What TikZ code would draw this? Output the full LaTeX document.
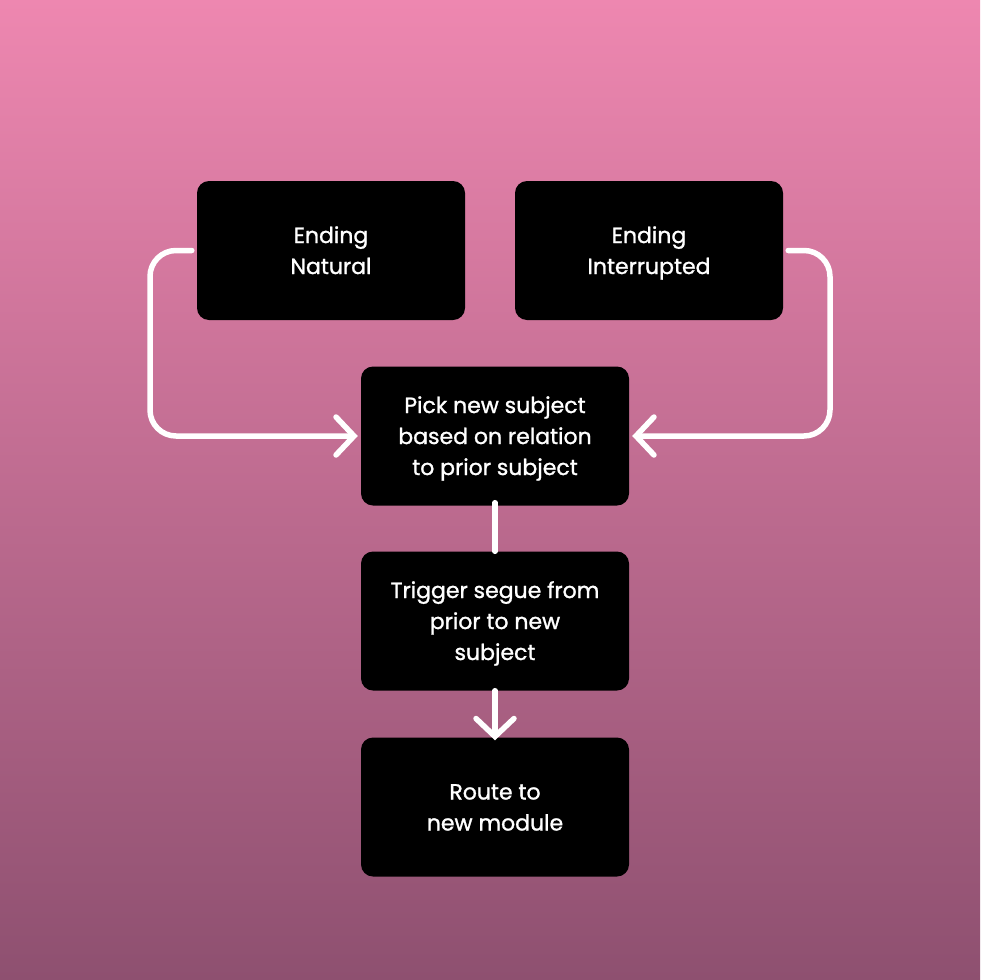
\documentclass[tikz,border=0pt]{standalone}
\usepackage{fontspec}
\setmainfont{Poppins}
\newfontfamily\boxfont{Poppins}[FakeBold=1.2]
\usetikzlibrary{arrows.meta}
\definecolor{bgtop}{HTML}{EE87B0}
\definecolor{bgbot}{HTML}{8E5070}
\newcommand\topst{\rule{0pt}{28pt}}
\newcommand\botst{\rule[-12pt]{0pt}{12pt}}
\tikzset{
  box/.style={fill=black, rounded corners=12pt, minimum width=268pt, minimum height=139pt, text=white, align=center, font=\boxfont\fontsize{22}{31}\selectfont, inner sep=0pt},
  conn/.style={draw=white, line width=5.5pt, line cap=round, line join=round},
  chev/.style={-{Straight Barb[length=18pt,width=38pt,line width=5.5pt, line cap=round]}},
}
\begin{document}
\begin{tikzpicture}[x=1pt,y=-1pt]
\shade[top color=bgtop, bottom color=bgbot] (0,0) rectangle (980,980);
\useasboundingbox (0,0) rectangle (980,980);
\node[box] (nat) at (331,250.5) {\topst Ending\\Natural\botst};
\node[box] (int) at (649,250.5) {\topst Ending\\Interrupted\botst};
\node[box] (pick) at (495,436) {\topst Pick new subject\\based on relation\\to prior subject\botst};
\node[box] (trig) at (495,621) {\topst Trigger segue from\\prior to new\\subject\botst};
\node[box] (route) at (495,807) {\topst Route to\\new module\botst};
\draw[conn, chev, rounded corners=26pt] ([xshift=-5pt]nat.west) -| (150,436) -- ([xshift=-3pt]pick.west);
\draw[conn, chev, rounded corners=26pt] ([xshift=5pt]int.east) -| (830,436) -- ([xshift=3pt]pick.east);
\draw[conn] ([yshift=3pt]pick.south) -- (trig.north);
\draw[conn, chev] (trig.south) -- ([yshift=-3pt]route.north);
\end{tikzpicture}
\end{document}
